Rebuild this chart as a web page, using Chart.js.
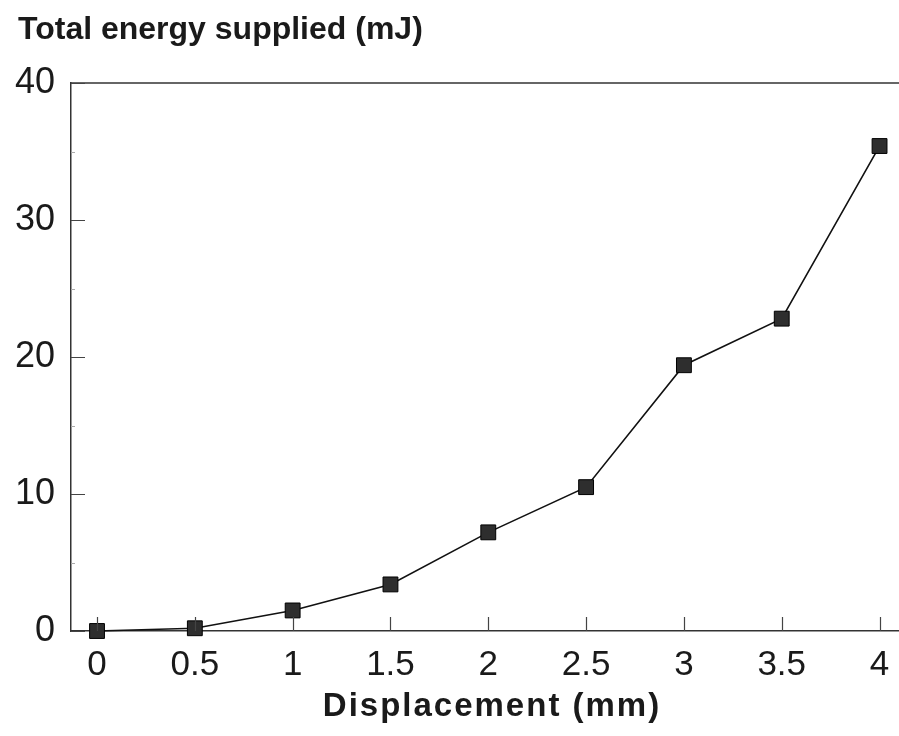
<!DOCTYPE html>
<html>
<head>
<meta charset="utf-8">
<script src="https://cdn.jsdelivr.net/npm/chart.js@4.4.1/dist/chart.umd.min.js"></script>
<style>
  html, body { margin: 0; padding: 0; background: #fff; overflow: hidden; }
  #wrap { width: 911px; height: 736px; }
</style>
</head>
<body>
<div id="wrap"><canvas id="c" width="911" height="736"></canvas></div>
<script>
// Displacement (mm) and total energy supplied (mJ)
const displacement = [0, 0.5, 1, 1.5, 2, 2.5, 3, 3.5, 4];
const energy = [0, 0.2, 1.5, 3.4, 7.2, 10.5, 19.4, 22.8, 35.4];
const xTicks = [0, 0.5, 1, 1.5, 2, 2.5, 3, 3.5, 4];
const yTicks = [0, 10, 20, 30, 40];
const yMinorTicks = [5, 15, 25, 35];

const chartTitle = 'Total energy supplied (mJ)';
const xTitle = 'Displacement (mm)';

const INK = '#1a1a1a';
const FONT = '"Liberation Sans", Arial, sans-serif';

// Title above the plot, x-axis title, frame top line and inward tick marks
const decorations = {
  id: 'decorations',
  afterDraw(chart) {
    const { ctx, chartArea, scales } = chart;
    const x = scales.x, y = scales.y;
    ctx.save();
    // top frame line
    ctx.strokeStyle = '#333';
    ctx.lineWidth = 1.5;
    ctx.beginPath();
    ctx.moveTo(chartArea.left, chartArea.top);
    ctx.lineTo(chartArea.right, chartArea.top);
    ctx.stroke();
    // inward ticks
    ctx.lineWidth = 1.2;
    ctx.strokeStyle = '#444';
    ctx.beginPath();
    xTicks.forEach(v => {
      const px = Math.round(x.getPixelForValue(v)) + 0.5;
      ctx.moveTo(px, chartArea.bottom);
      ctx.lineTo(px, chartArea.bottom - 14);
    });
    yTicks.forEach(v => {
      const py = Math.round(y.getPixelForValue(v)) + 0.5;
      ctx.moveTo(chartArea.left, py);
      ctx.lineTo(chartArea.left + 14, py);
    });
    ctx.stroke();
    ctx.strokeStyle = '#aaa';
    ctx.lineWidth = 1;
    ctx.beginPath();
    yMinorTicks.forEach(v => {
      const py = Math.round(y.getPixelForValue(v)) + 0.5;
      ctx.moveTo(chartArea.left, py);
      ctx.lineTo(chartArea.left + 4, py);
    });
    ctx.stroke();
    ctx.fillStyle = INK;
    ctx.textBaseline = 'alphabetic';
    // chart title
    ctx.font = 'bold 32px ' + FONT;
    ctx.textAlign = 'left';
    ctx.fillText(chartTitle, 18, 39);
    // x-axis title, centred under the axis
    ctx.font = 'bold 33px ' + FONT;
    ctx.letterSpacing = '2px';
    ctx.textAlign = 'center';
    ctx.fillText(xTitle, 492, 716);
    ctx.restore();
  }
};

const xMin = -0.133, xMax = 4.102;

new Chart(document.getElementById('c'), {
  type: 'line',
  data: {
    datasets: [{
      data: displacement.map((d, i) => ({ x: d, y: energy[i] })),
      borderColor: '#111',
      borderWidth: 1.6,
      pointStyle: 'rect',
      pointRadius: 10.5,
      pointBackgroundColor: '#2e2e2e',
      pointBorderColor: '#000',
      pointBorderWidth: 1,
      tension: 0,
      clip: false
    }]
  },
  options: {
    responsive: false,
    animation: false,
    devicePixelRatio: 1,
    layout: { padding: { top: 83, left: 0, right: 0, bottom: 0 } },
    plugins: { legend: { display: false }, tooltip: { enabled: false }, title: { display: false } },
    scales: {
      x: {
        type: 'linear',
        min: xMin,
        max: xMax,
        afterBuildTicks(scale) { scale.ticks = xTicks.map(v => ({ value: v })); },
        afterFit(scale) { scale.height = 105; scale.paddingLeft = 0; scale.paddingRight = 0; },
        grid: { display: false, drawTicks: false },
        border: { display: true, color: '#333', width: 1.5 },
        ticks: {
          padding: 13,
          color: INK,
          font: { family: FONT, size: 35 },
          maxRotation: 0,
          autoSkip: false,
          callback: v => String(v)
        },
        title: { display: false }
      },
      y: {
        type: 'linear',
        min: 0,
        max: 40,
        afterBuildTicks(scale) { scale.ticks = yTicks.map(v => ({ value: v })); },
        afterFit(scale) { scale.width = 71; },
        grid: { display: false, drawTicks: false },
        border: { display: true, color: '#333', width: 1.5 },
        ticks: {
          padding: 16,
          color: INK,
          font: { family: FONT, size: 36 },
          callback: v => String(v)
        }
      }
    }
  },
  plugins: [decorations]
});
</script>
</body>
</html>
